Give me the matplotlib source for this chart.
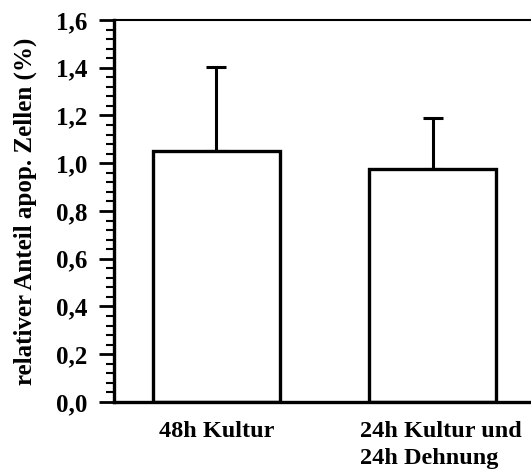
import numpy as np
import matplotlib
matplotlib.use("Agg")
import matplotlib.pyplot as plt
from matplotlib.ticker import MultipleLocator, FuncFormatter
from matplotlib.transforms import ScaledTranslation

categories = ["48h Kultur", "24h Kultur und\n24h Dehnung"]
values = [1.05, 0.975]
errors_up = [0.355, 0.215]

plt.rcParams['font.family'] = ['Liberation Serif', 'DejaVu Serif']
plt.rcParams['font.weight'] = 'bold'

fig = plt.figure(figsize=(5.31, 4.76), dpi=100)
ax = fig.add_axes([0.2147, 0.1555, 0.7853, 0.8025])

x = np.arange(len(categories))
ax.bar(x, values, width=0.59, color='white', edgecolor='black', linewidth=2.4, zorder=2)
ax.errorbar(x, values, yerr=[np.zeros(len(values)), errors_up], fmt='none',
            ecolor='black', elinewidth=2.2, capsize=7, capthick=2.2, zorder=1)

ax.set_xlim(-0.4745, 1.456)
ax.set_ylim(0, 1.6)
ax.yaxis.set_major_locator(MultipleLocator(0.2))
ax.yaxis.set_minor_locator(MultipleLocator(0.04))
ax.yaxis.set_major_formatter(FuncFormatter(lambda v, p: f"{v:.1f}".replace('.', ',')))
ax.tick_params(axis='y', which='major', length=11, width=2, direction='out', labelsize=18, pad=8)
ax.tick_params(axis='y', which='minor', length=6, width=1.5, direction='out')
ax.set_xticks(x)
labels = ax.set_xticklabels(categories, fontsize=17.5, fontweight='bold',
                            multialignment='left', linespacing=1.35)
ax.tick_params(axis='x', length=0, pad=14)
# second label sits a bit right of the bar centre in the original
labels[1].set_transform(labels[1].get_transform() + ScaledTranslation(8 / 100, 0, fig.dpi_scale_trans))

ax.spines['right'].set_visible(False)
ax.spines['left'].set_linewidth(2.4)
ax.spines['bottom'].set_linewidth(2.4)
ax.spines['top'].set_linewidth(1.5)

ax.set_ylabel("relativer Anteil apop. Zellen (%)", fontsize=18, fontweight='bold', labelpad=14)

fig.savefig("out.png", dpi=100)
